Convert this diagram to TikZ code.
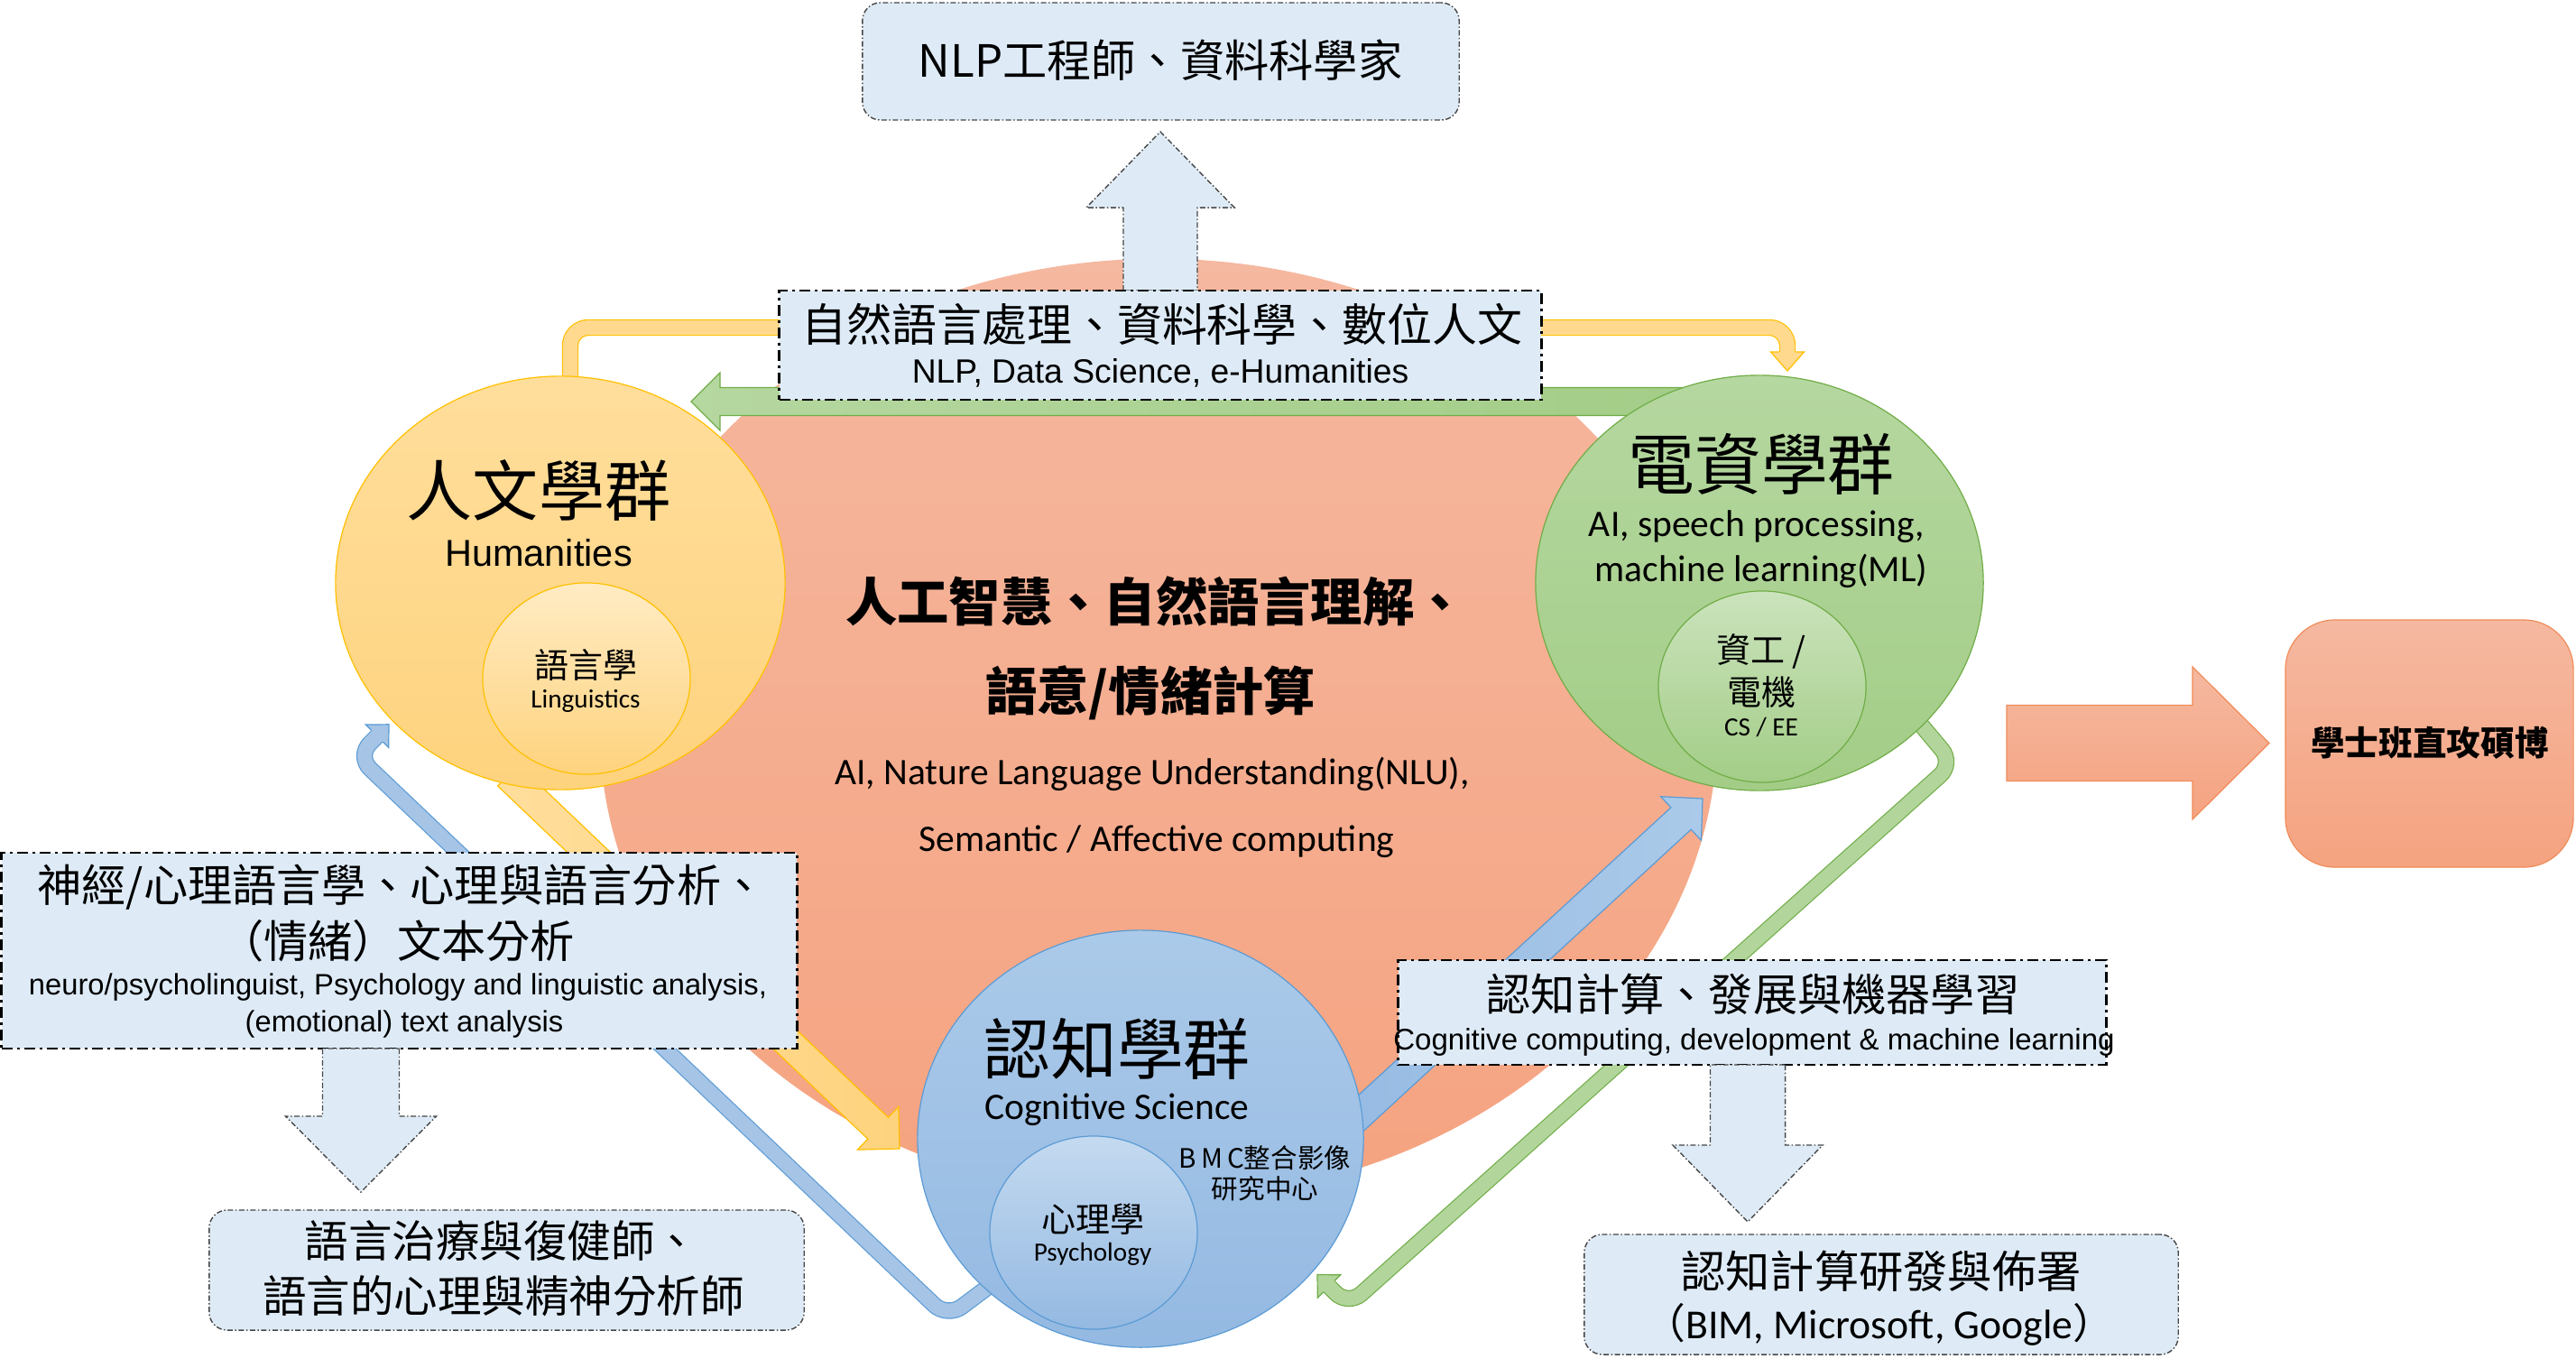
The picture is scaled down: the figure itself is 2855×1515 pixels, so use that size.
\documentclass[tikz,border=0pt]{standalone}
\usepackage{fontspec}
\setmainfont{Liberation Sans}
\newfontfamily\cjk{Noto Sans CJK TC}
\newfontfamily\calib{Carlito}
\usetikzlibrary{shapes.geometric,calc}

\definecolor{boxblue}{RGB}{222,235,247}
\definecolor{salT}{RGB}{245,184,160}
\definecolor{salB}{RGB}{245,163,128}
\definecolor{yelF}{RGB}{255,217,142}
\definecolor{yelT}{RGB}{255,222,156}
\definecolor{yelB}{RGB}{254,211,126}
\definecolor{yelD}{RGB}{255,192,0}
\definecolor{grnT}{RGB}{181,215,160}
\definecolor{grnB}{RGB}{163,205,135}
\definecolor{grnD}{RGB}{112,173,71}
\definecolor{grnF}{RGB}{178,213,156}
\definecolor{bluT}{RGB}{171,202,233}
\definecolor{bluB}{RGB}{148,185,226}
\definecolor{bluD}{RGB}{91,155,213}
\definecolor{bluF}{RGB}{165,196,230}
\definecolor{orgD}{RGB}{240,140,90}
\definecolor{dashgray}{RGB}{70,70,70}

\newcommand\fsz[1]{\fontsize{#1pt}{#1pt}\selectfont}

% [style]{tail}{tip}{half shaft}{half head}{head length}
\newcommand\blockarrow[6][]{%
  \path ($(#3)!#6!(#2)$) coordinate (bah);
  \draw[#1] ($(#2)!#4!90:(#3)$) -- ($(bah)!#4!90:(#3)$) -- ($(bah)!#5!90:(#3)$) -- (#3)
    -- ($(bah)!#5!-90:(#3)$) -- ($(bah)!#4!-90:(#3)$) -- ($(#2)!#4!-90:(#3)$) -- cycle;}

% {head base}{tip}{half head}{half shaft}{fill}{draw}
\newcommand\benthead[6]{%
  \fill[#5] ($(#1)!#3!90:(#2)$) -- (#2) -- ($(#1)!#3!-90:(#2)$) -- cycle;
  \draw[#6, line width=0.012cm, line join=miter] ($(#1)!#4!90:(#2)$) -- ($(#1)!#3!90:(#2)$) -- (#2)
    -- ($(#1)!#3!-90:(#2)$) -- ($(#1)!#4!-90:(#2)$);}

\begin{document}
\begin{tikzpicture}[x=0.01cm, y=-0.01cm,
  bigell/.style={ellipse, inner sep=0pt, line width=0.012cm},
  bentsh/.style={line width=0.012cm, double distance=0.16cm, rounded corners=0.2cm},
  boldbox/.style={fill=boxblue, draw=black, line width=0.028cm,
    dash pattern=on 0.12cm off 0.05cm on 0.03cm off 0.05cm, inner sep=0pt},
  softbox/.style={fill=boxblue, draw=dashgray, line width=0.014cm,
    dash pattern=on 0.06cm off 0.025cm on 0.015cm off 0.025cm, rounded corners=0.2cm, inner sep=0pt},
  softarrow/.style={fill=boxblue, draw=dashgray, line width=0.014cm,
    dash pattern=on 0.06cm off 0.025cm on 0.015cm off 0.025cm},
  txt/.style={inner sep=0pt, outer sep=0pt, text=black, align=center}]

\useasboundingbox (0,0) rectangle (2855,1515);

% central salmon ellipse
\node[bigell, top color=salT, bottom color=salB, minimum width=12.38cm, minimum height=10.42cm] (ai) at (1284,808) {};

% yellow bent arrow (top)
\draw[bentsh, draw=yelD, double=yelF] (632,430) -- (632,363) -- (1981,363) -- (1981,391);
\coordinate (yhH) at (1981,390);
\coordinate (yhT) at (1981,411);
\benthead{yhH}{yhT}{0.185cm}{0.09cm}{yelF}{yelD}

% up arrow
\coordinate (upT) at (1286,322);
\coordinate (upH) at (1286,146);
\blockarrow[softarrow]{upT}{upH}{0.41cm}{0.82cm}{0.84cm}

% green left arrow
\coordinate (glT) at (1892,445);
\coordinate (glH) at (766,445);
\blockarrow[draw=grnD, line width=0.012cm, left color=grnT, right color=grnB]{glT}{glH}{0.155cm}{0.32cm}{0.32cm}

% yellow diagonal arrow
\coordinate (ydT) at (563,859);
\coordinate (ydH) at (997,1273);
\blockarrow[draw=yelD, line width=0.012cm, left color=yelT, right color=yelB]{ydT}{ydH}{0.165cm}{0.33cm}{0.33cm}

% blue diagonal arrow
\coordinate (bdT) at (1460,1278);
\coordinate (bdH) at (1887,885);
\blockarrow[draw=bluD, line width=0.012cm, left color=bluB, right color=bluT]{bdT}{bdH}{0.165cm}{0.33cm}{0.325cm}

% blue bent arrow
\draw[bentsh, draw=bluD, double=bluF] (1150,1385) -- (1050,1460) -- (395.7,838.1) -- (418.5,815.3);
\coordinate (bbH) at (418,815.8);
\coordinate (bbT) at (431,802.8);
\benthead{bbH}{bbT}{0.18cm}{0.09cm}{bluF}{bluD}

% green bent arrow
\draw[bentsh, draw=grnD, double=grnF] (2118,790) -- (2165,846) -- (1494,1447) -- (1472.5,1425);
\coordinate (gbH) at (1473,1425.5);
\coordinate (gbT) at (1460,1412.5);
\benthead{gbH}{gbT}{0.18cm}{0.09cm}{grnF}{grnD}

% group ellipses
\node[bigell, draw=yelD, top color=yelT, bottom color=yelB, minimum width=4.98cm, minimum height=4.58cm] (hum) at (621,646) {};
\node[bigell, draw=yelD, top color=yelT!60!white, bottom color=yelB, minimum width=2.30cm, minimum height=2.12cm] (ling) at (650,752) {};

\node[bigell, draw=grnD, top color=grnT, bottom color=grnB, minimum width=4.96cm, minimum height=4.60cm] (ee) at (1950,646) {};
\node[bigell, draw=grnD, top color=grnT!70!white, bottom color=grnB, minimum width=2.30cm, minimum height=2.12cm] (csee) at (1953,761) {};

\node[bigell, draw=bluD, top color=bluT, bottom color=bluB, minimum width=4.94cm, minimum height=4.62cm] (cog) at (1264,1262) {};
\node[bigell, draw=bluD, top color=bluT!70!white, bottom color=bluB, minimum width=2.30cm, minimum height=2.14cm] (psy) at (1212,1366) {};

% boxes
\node[softbox, minimum width=6.61cm, minimum height=1.30cm] (topbox) at (1286.5,68) {};
\node[boldbox, minimum width=8.44cm, minimum height=1.21cm] (dsbox) at (1286,382.5) {};
\node[boldbox, minimum width=8.81cm, minimum height=2.17cm] (leftbox) at (442.5,1053.5) {};
\node[boldbox, minimum width=7.84cm, minimum height=1.16cm] (cogbox) at (1942,1122) {};

% down arrows
\coordinate (ldT) at (400,1162);
\coordinate (ldH) at (400,1321);
\blockarrow[softarrow]{ldT}{ldH}{0.425cm}{0.835cm}{0.84cm}
\coordinate (rdT) at (1937,1180);
\coordinate (rdH) at (1937,1354);
\blockarrow[softarrow]{rdT}{rdH}{0.415cm}{0.83cm}{0.85cm}

\node[softbox, minimum width=6.59cm, minimum height=1.33cm] (therbox) at (561.5,1407.5) {};
\node[softbox, minimum width=6.58cm, minimum height=1.33cm] (depbox) at (2085,1434.5) {};

% right salmon arrow and box
\coordinate (raT) at (2224,823.5);
\coordinate (raH) at (2515,823.5);
\blockarrow[draw=orgD, line width=0.012cm, top color=salT, bottom color=salB]{raT}{raH}{0.42cm}{0.845cm}{0.85cm}
\node[draw=orgD, line width=0.012cm, top color=salT, bottom color=salB, rounded corners=0.55cm,
  minimum width=3.19cm, minimum height=2.74cm, inner sep=0pt] (phd) at (2692.5,824) {};

% ---------- texts ----------
\node[txt, font=\cjk\fsz{14}] (t1) at (1286,67) {NLP工程師、資料科學家};
\node[txt, font=\cjk\fsz{14.2}] (t2) at (1288,359) {自然語言處理、資料科學、數位人文};
\node[txt, font=\fsz{10.6}] (t3) at (1286,413) {NLP, Data Science, e-Humanities};

\node[txt, font=\cjk\fsz{20.8}] (t4) at (597,543) {人文學群};
\node[txt, font=\fsz{11.8}] (t5) at (597,613) {Humanities};
\node[txt, font=\cjk\fsz{10.8}] (t6) at (649,737) {語言學};
\node[txt, font=\calib\fsz{8.3}] (t7) at (649,777) {Linguistics};

\node[txt, font=\cjk\fsz{21}] (t8) at (1952,514) {電資學群};
\node[txt, font=\calib\fsz{11.8}] (t9) at (1947,584) {AI, speech processing,};
\node[txt, font=\calib\fsz{11.8}] (t10) at (1952,633) {machine learning(ML)};
\node[txt, font=\cjk\fsz{10.8}] (t11) at (1952,722) {資工 /};
\node[txt, font=\cjk\fsz{10.8}] (t12) at (1952,767) {電機};
\node[txt, font=\calib\fsz{8.3}] (t13) at (1952,806) {CS / EE};

\node[txt, font=\cjk\fsz{21}] (t14) at (1238,1162) {認知學群};
\node[txt, font=\calib\fsz{11.8}] (t15) at (1238,1230) {Cognitive Science};
\node[txt, font=\cjk\fsz{10.8}] (t16) at (1211,1351) {心理學};
\node[txt, font=\calib\fsz{8.3}] (t17) at (1211,1390) {Psychology};
\node[txt, font=\cjk\fsz{8.4}] (t18) at (1402,1283) {B\,M\,C整合影像};
\node[txt, font=\cjk\fsz{8.4}] (t19) at (1402,1317) {研究中心};

\node[txt, font=\cjk\bfseries\fsz{16.3}] (t20) at (1281,666) {人工智慧、自然語言理解、};
\node[txt, font=\cjk\bfseries\fsz{16.3}] (t21) at (1275,768) {語意/情緒計算};
\node[txt, font=\calib\fsz{11.8}] (t22) at (1277,858) {AI, Nature Language Understanding(NLU),};
\node[txt, font=\calib\fsz{11.8}] (t23) at (1282,933) {Semantic / Affective computing};

\node[txt, font=\cjk\bfseries\fsz{10.7}] (t24) at (2693,823) {學士班直攻碩博};

\node[txt, font=\cjk\fsz{14}] (t25) at (445,983) {神經/心理語言學、心理與語言分析、};
\node[txt, font=\cjk\fsz{14}] (t26) at (440,1043) {（情緒）文本分析};
\node[txt, font=\fsz{9.3}] (t27) at (441,1094) {neuro/psycholinguist, Psychology and linguistic analysis,};
\node[txt, font=\fsz{9.3}] (t28) at (448,1135) {(emotional) text analysis};

\node[txt, font=\cjk\fsz{13.8}] (t29) at (556,1375) {語言治療與復健師、};
\node[txt, font=\cjk\fsz{13.8}] (t30) at (558,1436) {語言的心理與精神分析師};

\node[txt, font=\cjk\fsz{14}] (t31) at (1943,1102) {認知計算、發展與機器學習};
\node[txt, font=\fsz{9.4}] (t32) at (1944,1155) {Cognitive computing, development \& machine learning};

\node[txt, font=\cjk\fsz{14}] (t33) at (2085,1409) {認知計算研發與佈署};
\node[txt, font=\calib\fsz{13}] (t34) at (2083,1468) {{\cjk （}BIM, Microsoft, Google{\cjk ）}};

\end{tikzpicture}
\end{document}
